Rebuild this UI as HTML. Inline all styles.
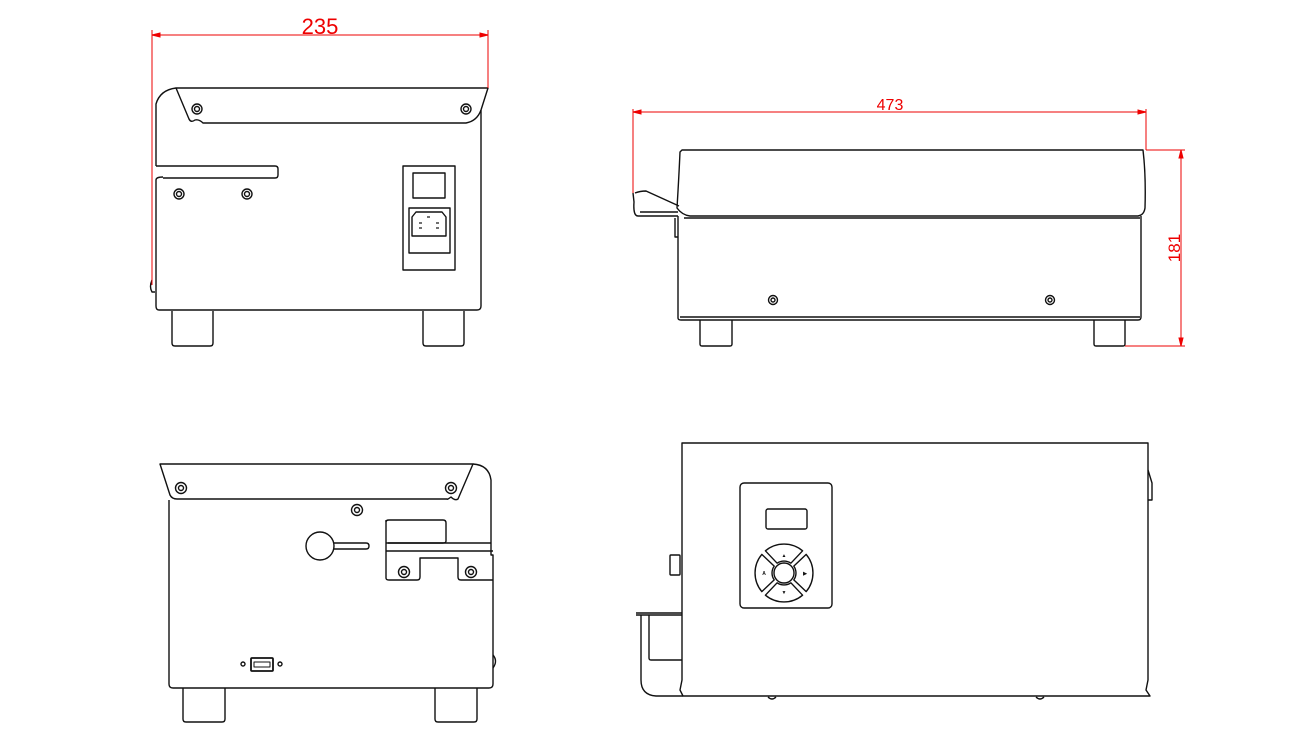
<!DOCTYPE html>
<html><head><meta charset="utf-8"><style>html,body{margin:0;padding:0;background:#fff}svg{display:block}</style></head>
<body>
<svg width="1312" height="738" viewBox="0 0 1312 738" xmlns="http://www.w3.org/2000/svg" font-family="Liberation Sans, sans-serif">
<g fill="none" stroke="#111" stroke-width="1.4" stroke-linejoin="round">
<!-- VIEW 1 -->
<path d="M176,88 L488,88 L481,110 Q477,121 466,123 L203,123 Q199,119 195,120 Q191,123 189,119 Z"/>
<path d="M176,88 Q160,90 156,104 L156,166"/>
<path d="M481,110 L481,306 Q481,310 477,310 L159,310 Q156,310 156,306 L156,180 Q156,177 163,177"/>
<path d="M156,166 L275,166 Q278,166 278,169 L278,175 Q278,178 275,178 L163,178"/>
<path d="M152,280 Q149,287 152,292 L155,292"/>
<circle cx="197" cy="109" r="5"/><circle cx="197" cy="109" r="2.5"/>
<circle cx="466" cy="109" r="5"/><circle cx="466" cy="109" r="2.5"/>
<circle cx="179" cy="194" r="5"/><circle cx="179" cy="194" r="2.5"/>
<circle cx="247" cy="194" r="5"/><circle cx="247" cy="194" r="2.5"/>
<rect x="403" y="166" width="52" height="104"/>
<rect x="413" y="173" width="32" height="25"/>
<rect x="409" y="208" width="41" height="45"/>
<path d="M412,217 L416,212 L442,212 L446,217 L446,236 L412,236 Z"/>
<g stroke-width="1.2"><line x1="427" y1="217" x2="430" y2="217"/><line x1="419" y1="223" x2="422" y2="223"/><line x1="436" y1="223" x2="439" y2="223"/><line x1="419" y1="228" x2="422" y2="228"/><line x1="436" y1="228" x2="439" y2="228"/></g>
<path d="M172,311 L172,343 Q172,346 175,346 L210,346 Q213,346 213,343 L213,311"/>
<path d="M423,311 L423,343 Q423,346 426,346 L461,346 Q464,346 464,343 L464,311"/>
<!-- VIEW 2 -->
<path d="M682,150 L1143,150 Q1146,175 1145,208 Q1144,215 1138,216 L690,216 Q682,215 677,208 Q679,175 680,152 Z"/>
<path d="M678,216 L678,318 Q678,320 681,320 L1138,320 Q1141,320 1141,317 L1141,216"/>
<line x1="680" y1="317" x2="1140" y2="317"/>
<line x1="684" y1="218" x2="1140" y2="218"/>
<path d="M675,218 L675,237 L678,237"/>
<path d="M633,193 L634,202 Q633,216 638,216 L678,216 M635,193 Q640,191 646,191 L679,206 M640,212 L678,212"/>
<circle cx="773" cy="300" r="4.5"/><circle cx="773" cy="300" r="2"/>
<circle cx="1050" cy="300" r="4.5"/><circle cx="1050" cy="300" r="2"/>
<path d="M700,320 L700,344 Q700,346 702,346 L730,346 Q732,346 732,344 L732,320"/>
<path d="M1094,320 L1094,344 Q1094,346 1096,346 L1123,346 Q1125,346 1125,344 L1125,320"/>
<!-- VIEW 3 -->
<path d="M160,464 L473,464 L458,499 Q455,501 451,497 Q447,500 447,499 L177,499 Q172,499 170,495 Z"/>
<path d="M473,464 Q489,465 491,480 L491,555 L493,555 L493,684 Q493,688 489,688 L173,688 Q169,688 169,684 L169,500"/>
<circle cx="181" cy="488" r="5.5"/><circle cx="181" cy="488" r="2.5"/>
<circle cx="451" cy="488" r="5.5"/><circle cx="451" cy="488" r="2.5"/>
<circle cx="357" cy="510" r="5.5"/><circle cx="357" cy="510" r="2.5"/>
<path d="M333,543 L366,543 Q369,543 369,546 Q369,549 366,549 L333,549"/>
<circle cx="320" cy="546" r="14" fill="#fff"/>
<path d="M386,522 Q386,520 389,520 L443,520 Q446,520 446,523 L446,541 Q446,543 443,543 L388,543"/>
<path d="M386,520 L386,578 Q386,580 389,580 L417,580 Q420,580 420,577 L420,558 L458,558 L458,577 Q458,580 461,580 L493,580"/>
<line x1="386" y1="543" x2="491" y2="543"/>
<line x1="386" y1="551" x2="493" y2="551"/>
<circle cx="404" cy="572" r="5.5"/><circle cx="404" cy="572" r="2.5"/>
<circle cx="471" cy="572" r="5.5"/><circle cx="471" cy="572" r="2.5"/>
<rect x="251" y="658" width="22" height="13" rx="1" stroke-width="1.8"/>
<rect x="254" y="662" width="16" height="5" stroke-width="1"/>
<circle cx="243" cy="664" r="2"/><circle cx="280" cy="664" r="2"/>
<path d="M493,655 Q498,661 493,668"/>
<path d="M183,688 L183,719 Q183,722 186,722 L222,722 Q225,722 225,719 L225,688"/>
<path d="M435,688 L435,719 Q435,722 438,722 L474,722 Q477,722 477,719 L477,688"/>
<!-- VIEW 4 -->
<path d="M682,443 L1148,443 L1148,680 L1146,690 L1150,696 L683,696 L680,690 L682,680 Z"/>
<path d="M1148,470 L1152,483 L1152,500 L1148,500"/>
<rect x="740" y="483" width="92" height="125" rx="4"/>
<rect x="766" y="509" width="41" height="20" rx="2"/>
<circle cx="784" cy="573" r="10"/>
<g id="pad"><path d="M765.4,550.8 A29,29 0 0 1 802.6,550.8 L790.9,563.2 A12,12 0 0 0 777.1,563.2 Z"/></g>
<path transform="rotate(90 784 573)" d="M765.4,550.8 A29,29 0 0 1 802.6,550.8 L790.9,563.2 A12,12 0 0 0 777.1,563.2 Z"/>
<path transform="rotate(180 784 573)" d="M765.4,550.8 A29,29 0 0 1 802.6,550.8 L790.9,563.2 A12,12 0 0 0 777.1,563.2 Z"/>
<path transform="rotate(270 784 573)" d="M765.4,550.8 A29,29 0 0 1 802.6,550.8 L790.9,563.2 A12,12 0 0 0 777.1,563.2 Z"/>
<rect x="670" y="555" width="10" height="20" rx="1"/>
<path d="M636,613 L682,613 M636,615 L682,615"/>
<path d="M641,615 L641,680 Q641,695 656,696 L683,696 M649,615 L649,658 Q649,660 651,660 L682,660"/>
<path d="M768,697 Q772,701 776,697 M1036,697 Q1040,701 1044,697"/>
</g>
<!-- DIMENSIONS -->
<g stroke="#e00" stroke-width="1" fill="none">
<line x1="152" y1="35" x2="488" y2="35"/><line x1="152" y1="30" x2="152" y2="285"/><line x1="488" y1="30" x2="488" y2="88"/>
<path d="M152,35 l8,-2 v4 z M488,35 l-8,-2 v4 z" fill="#e00"/>
<line x1="633" y1="112" x2="1146" y2="112"/><line x1="633" y1="109" x2="633" y2="193"/><line x1="1146" y1="109" x2="1146" y2="150"/>
<path d="M633,112 l8,-2 v4 z M1146,112 l-8,-2 v4 z" fill="#e00"/>
<line x1="1181" y1="150" x2="1181" y2="346"/><line x1="1146" y1="150" x2="1185" y2="150"/><line x1="1125" y1="346" x2="1185" y2="346"/>
<path d="M1181,150 l-2,8 h4 z M1181,346 l-2,-8 h4 z" fill="#e00"/>
</g>
<g fill="#e00">
<text x="320" y="34" text-anchor="middle" font-size="22">235</text>
<text x="890" y="110" text-anchor="middle" font-size="16">473</text>
<text transform="translate(1180,248) rotate(-90)" text-anchor="middle" font-size="17">181</text>
</g>
<g font-size="5" font-weight="bold" fill="#111" text-anchor="middle">
<text x="784" y="557">▲</text><text x="784" y="594">▼</text><text x="764" y="575">A</text><text x="805" y="575">▶</text>
</g>
</svg>
</body></html>
